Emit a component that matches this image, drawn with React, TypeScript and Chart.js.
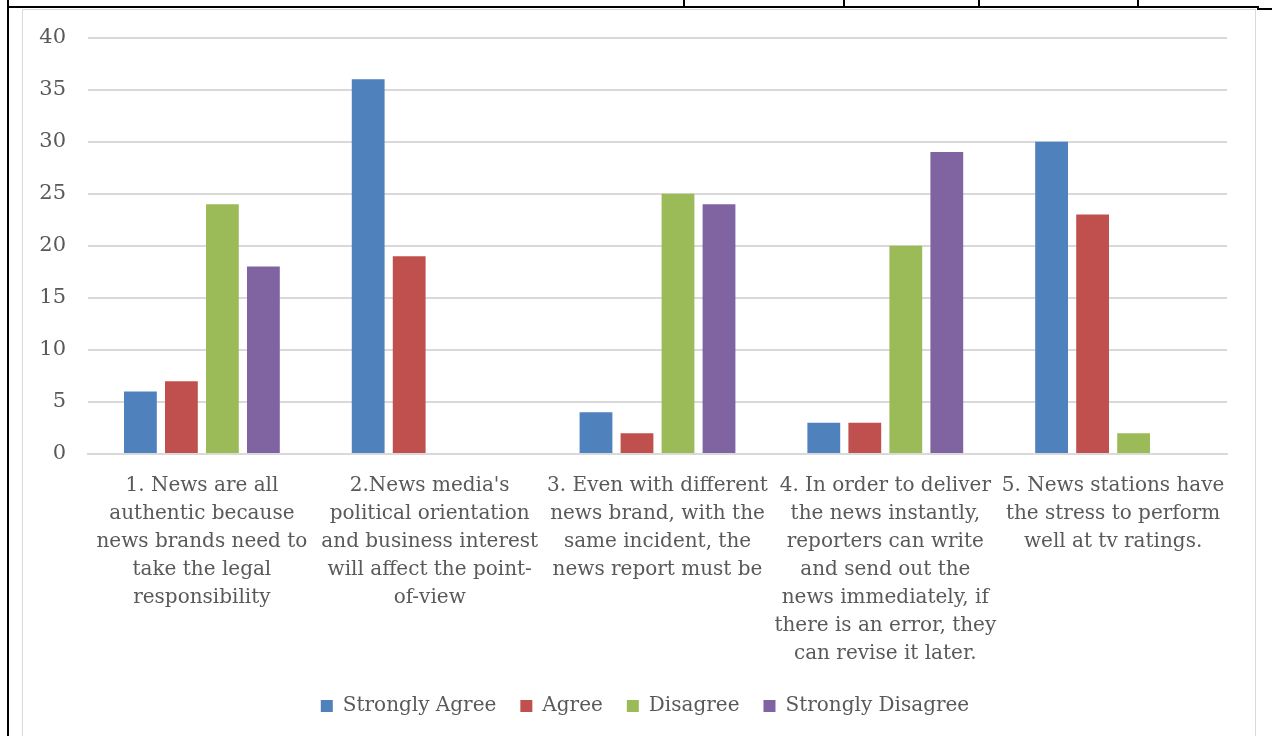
import React, { useEffect, useRef } from "react";
import { Chart, registerables } from "chart.js";

Chart.register(...registerables);

const categories: string[][] = [
  ["1. News are all", "authentic because", "news brands need to", "take the legal", "responsibility"],
  ["2.News media's", "political orientation", "and business interest", "will affect the point-", "of-view"],
  ["3. Even with different", "news brand, with the", "same incident, the", "news report must be"],
  ["4. In order to deliver", "the news instantly,", "reporters can write", "and send out the", "news immediately, if", "there is an error, they", "can revise it later."],
  ["5. News stations have", "the stress to perform", "well at tv ratings."],
];

const stronglyAgree = [6, 36, 4, 3, 30];
const agree = [7, 19, 2, 3, 23];
const disagree = [24, 0, 25, 20, 2];
const stronglyDisagree = [18, 0, 24, 29, 0];

const seriesNames = ["Strongly Agree", "Agree", "Disagree", "Strongly Disagree"];
const seriesColors = ["#4F81BD", "#C0504D", "#9BBB59", "#8064A2"];

const FONT = "'DejaVu Serif', 'Liberation Serif', serif";

const legendShift = {
  id: "legendShift",
  afterLayout(chart: any) {
    const lg = chart.legend;
    if (lg) {
      lg.left += 20;
      lg.right += 20;
    }
  },
};

export default function App() {
  const ref = useRef<HTMLCanvasElement | null>(null);

  useEffect(() => {
    if (!ref.current) return;
    const values = [stronglyAgree, agree, disagree, stronglyDisagree];
    const chart = new Chart(ref.current, {
      type: "bar",
      data: {
        labels: categories,
        datasets: values.map((v, i) => ({
          label: seriesNames[i],
          data: v,
          backgroundColor: seriesColors[i],
          borderWidth: 0,
          barPercentage: 0.8,
          categoryPercentage: 0.72,
        })),
      },
      options: {
        animation: false,
        responsive: false,
        maintainAspectRatio: false,
        layout: { padding: { top: 22, right: 28, bottom: 10, left: 0 } },
        plugins: {
          tooltip: { enabled: false },
          legend: {
            position: "bottom",
            labels: {
              boxWidth: 12,
              boxHeight: 12,
              padding: 24,
              color: "#595959",
              font: { family: FONT, size: 20 },
            },
          },
        },
        scales: {
          x: {
            grid: { display: false, drawTicks: false },
            border: { display: true, color: "#d9d9d9", width: 2 },
            ticks: {
              color: "#595959",
              font: { family: FONT, size: 20, lineHeight: 1.4 },
              padding: 18,
              maxRotation: 0,
              autoSkip: false,
            },
            afterFit: (scale: any) => {
              scale.height = 218;
            },
          },
          y: {
            min: 0,
            max: 40,
            ticks: {
              stepSize: 5,
              color: "#595959",
              font: { family: FONT, size: 21 },
              padding: 22,
            },
            grid: { color: "#d9d9d9", lineWidth: 2, drawTicks: false },
            border: { display: false },
            afterFit: (scale: any) => {
              scale.width = 65;
            },
          },
        },
      },
      plugins: [legendShift],
    });
    return () => chart.destroy();
  }, []);

  const black = "#000";
  return (
    <div style={{ position: "absolute", left: 0, top: 0, width: 1272, height: 736, background: "#fff", overflow: "hidden" }}>
      <div style={{ position: "absolute", left: 7, top: 0, width: 2, height: 736, background: black }} />
      <div style={{ position: "absolute", left: 7, top: 6, width: 1252, height: 2, background: black }} />
      <div style={{ position: "absolute", left: 1257, top: 8, width: 15, height: 2, background: black }} />
      {[683, 843, 978, 1137].map((x) => (
        <div key={x} style={{ position: "absolute", left: x, top: 0, width: 2, height: 7, background: black }} />
      ))}
      <div style={{ position: "absolute", left: 22, top: 9, width: 1234, height: 740, border: "1px solid #d9d9d9", boxSizing: "border-box" }} />
      <div style={{ position: "absolute", left: 23, top: 3 }}>
        <canvas ref={ref} width={1232} height={733} style={{ display: "block", width: 1232, height: 733 }} />
      </div>
    </div>
  );
}
